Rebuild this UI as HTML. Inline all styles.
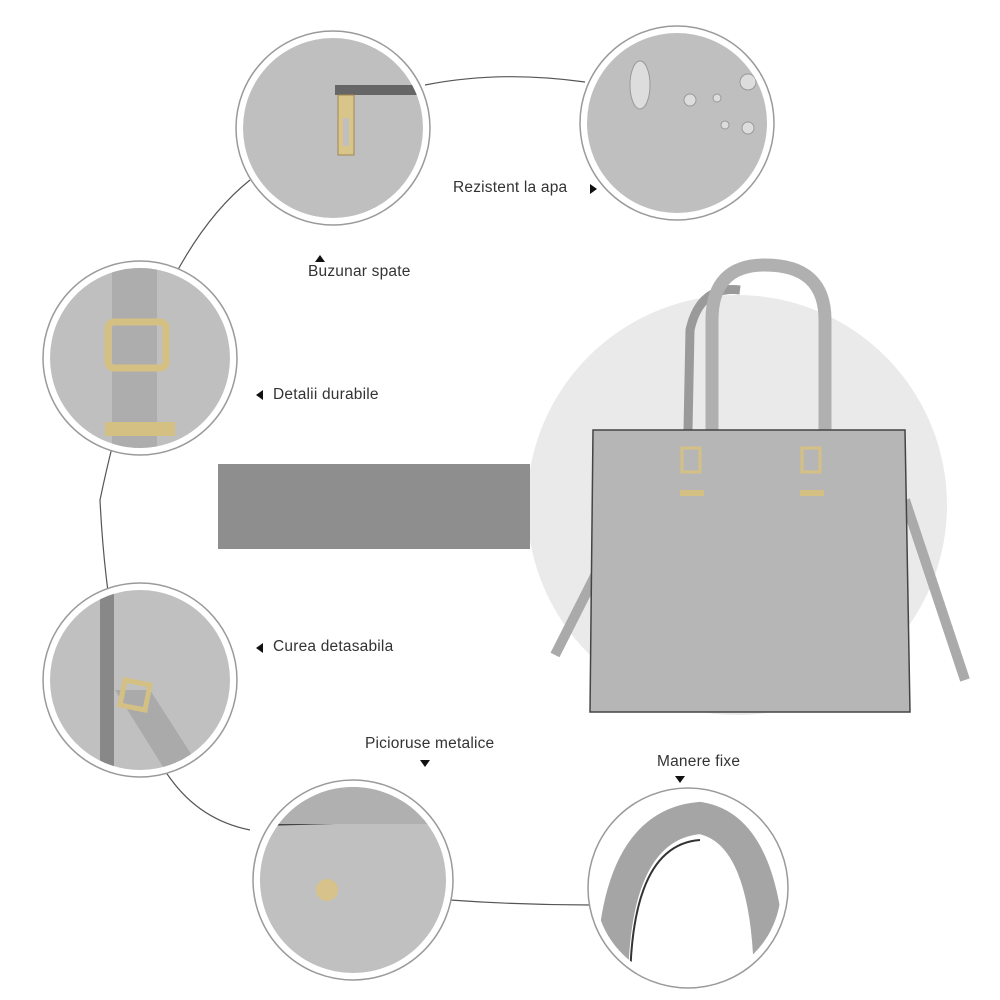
<!DOCTYPE html>
<html><head><meta charset="utf-8"><style>
body{margin:0;width:1000px;height:1000px;background:#fff;position:relative;overflow:hidden;font-family:"Liberation Sans",sans-serif}
.l{position:absolute;font-size:15.5px;color:#333;white-space:nowrap;letter-spacing:.2px}
</style></head><body>
<svg width="1000" height="1000" style="position:absolute;left:0;top:0">
<defs>
<clipPath id="k1"><circle cx="333" cy="128" r="90"/></clipPath>
<clipPath id="k2"><circle cx="677" cy="123" r="90"/></clipPath>
<clipPath id="k3"><circle cx="140" cy="358" r="90"/></clipPath>
<clipPath id="k4"><circle cx="140" cy="680" r="90"/></clipPath>
<clipPath id="k5"><circle cx="353" cy="880" r="93"/></clipPath>
<clipPath id="k6"><circle cx="688" cy="888" r="93"/></clipPath>
</defs>
<path d="M585,82 Q500,70 425,85 M250,180 Q150,260 100,500 Q110,700 170,778 Q200,820 250,830" fill="none" stroke="#555" stroke-width="1.2"/>
<path d="M450,900 Q520,905 590,905" fill="none" stroke="#555" stroke-width="1.2"/>
<circle cx="737" cy="505" r="210" fill="#eaeaea"/>
<rect x="218" y="464" width="312" height="85" fill="#8e8e8e"/>
<g stroke="#9a9a9a" stroke-width="1.5" fill="#fff">
<circle cx="333" cy="128" r="97"/><circle cx="677" cy="123" r="97"/><circle cx="140" cy="358" r="97"/><circle cx="140" cy="680" r="97"/><circle cx="353" cy="880" r="100"/><circle cx="688" cy="888" r="100"/>
</g>
<g clip-path="url(#k1)"><rect x="200" y="0" width="300" height="300" fill="#bfbfbf"/>
<rect x="335" y="85" width="100" height="10" fill="#666"/><rect x="338" y="95" width="16" height="60" fill="#d9c489" stroke="#a08850"/><rect x="343" y="118" width="6" height="28" fill="#bfbfbf"/></g>
<g clip-path="url(#k2)"><rect x="550" y="0" width="300" height="300" fill="#bfbfbf"/>
<g fill="#ddd" stroke="#999"><ellipse cx="640" cy="85" rx="10" ry="24"/><circle cx="690" cy="100" r="6"/><circle cx="748" cy="82" r="8"/><circle cx="748" cy="128" r="6"/><circle cx="725" cy="125" r="4"/><circle cx="717" cy="98" r="4"/></g></g>
<g clip-path="url(#k3)"><rect x="0" y="250" width="300" height="220" fill="#bfbfbf"/>
<rect x="112" y="262" width="45" height="200" fill="#adadad"/>
<rect x="108" y="322" width="58" height="46" rx="6" fill="none" stroke="#d5c083" stroke-width="7"/>
<rect x="105" y="422" width="70" height="14" fill="#d5c083"/></g>
<g clip-path="url(#k4)"><rect x="0" y="570" width="300" height="220" fill="#c0c0c0"/>
<rect x="100" y="585" width="14" height="190" fill="#888"/>
<path d="M115,690 L165,770 L195,760 L150,690z" fill="#aaa"/>
<path d="M125,680 l25,5 l-5,25 l-25,-5z" fill="none" stroke="#d5c083" stroke-width="5"/></g>
<g clip-path="url(#k5)"><rect x="240" y="770" width="230" height="220" fill="#c0c0c0"/>
<path d="M262,825 L445,820" stroke="#444" stroke-width="2"/><rect x="240" y="770" width="230" height="54" fill="#b0b0b0"/>
<circle cx="327" cy="890" r="11" fill="#d6c28a"/></g>
<g clip-path="url(#k6)"><rect x="580" y="780" width="220" height="220" fill="#fff"/>
<path d="M612,990 Q612,825 700,818 Q770,830 770,990" fill="none" stroke="#a5a5a5" stroke-width="32"/>
<path d="M630,990 Q630,845 700,840" fill="none" stroke="#333" stroke-width="2"/></g>
<!-- bag -->
<path d="M603,560 L555,655 M905,500 L965,680" stroke="#aaa" stroke-width="10"/>
<path d="M688,430 L690,330 Q700,285 740,290" fill="none" stroke="#9a9a9a" stroke-width="9"/>
<path d="M712,430 L712,320 Q712,265 765,265 Q825,265 825,320 L825,430" fill="none" stroke="#b0b0b0" stroke-width="13"/>
<path d="M593,430 L905,430 L910,712 L590,712 Z" fill="#b6b6b6" stroke="#444" stroke-width="1.5"/>
<g fill="none" stroke="#d5c083" stroke-width="3"><rect x="682" y="448" width="18" height="24"/><rect x="802" y="448" width="18" height="24"/></g>
<rect x="680" y="490" width="24" height="6" fill="#d5c083"/><rect x="800" y="490" width="24" height="6" fill="#d5c083"/>
<path d="M315,262 l5,-7 l5,7z M590,184 l7,5 l-7,5z M263,390 l-7,5 l7,5z M263,643 l-7,5 l7,5z M420,760 l5,7 l5,-7z M675,776 l5,7 l5,-7z" fill="#111"/>
</svg>
<div class="l" style="left:453px;top:179px">Rezistent la apa</div>
<div class="l" style="left:308px;top:263px">Buzunar spate</div>
<div class="l" style="left:273px;top:386px">Detalii durabile</div>
<div class="l" style="left:273px;top:638px">Curea detasabila</div>
<div class="l" style="left:365px;top:735px">Picioruse metalice</div>
<div class="l" style="left:657px;top:753px">Manere fixe</div>
</body></html>
